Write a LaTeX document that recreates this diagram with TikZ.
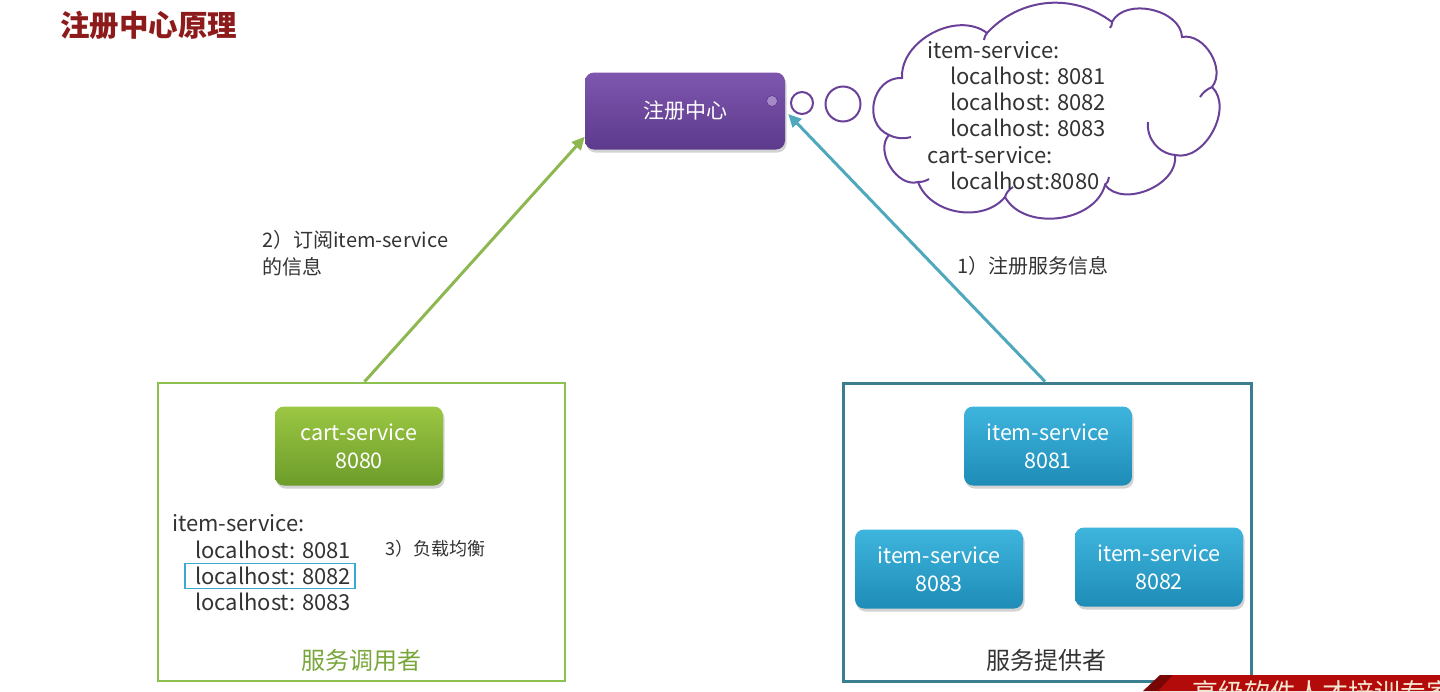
\documentclass[tikz,border=0pt]{standalone}
\usepackage{fontspec}
\setmainfont{Noto Sans CJK SC}
\usetikzlibrary{arrows.meta,shadows,calc}

\definecolor{titlered}{HTML}{8E1B1B}
\definecolor{regtop}{HTML}{7E56AE}
\definecolor{regbot}{HTML}{5C3A8C}
\definecolor{regline}{HTML}{6A4198}
\definecolor{subline}{HTML}{8DB851}
\definecolor{consline}{HTML}{8CC152}
\definecolor{carttop}{HTML}{9CC743}
\definecolor{cartbot}{HTML}{6C9C2A}
\definecolor{itemtop}{HTML}{3EB5DD}
\definecolor{itembot}{HTML}{1E8CB7}
\definecolor{regarrow}{HTML}{4FA8BC}
\definecolor{provline}{HTML}{3B7E8F}
\definecolor{txt}{HTML}{333333}
\definecolor{consgreen}{HTML}{79A63A}
\definecolor{hlblue}{HTML}{3AA8D2}
\definecolor{bannerred}{HTML}{B30A0A}
\definecolor{bannerdark}{HTML}{7A0505}
\definecolor{cream}{HTML}{F6E7D2}

\newcommand{\fs}[2]{\fontsize{#1}{#2}\selectfont}

\tikzset{
  svcbox/.style={rounded corners=9pt, minimum width=168pt, minimum height=79pt,
    align=center, text=white, font=\fs{21.5}{28},
    drop shadow={shadow xshift=1.5pt, shadow yshift=-3pt, opacity=0.35}},
  cartbox/.style={svcbox, top color=carttop, bottom color=cartbot},
  itembox/.style={svcbox, top color=itemtop, bottom color=itembot},
  listline/.style={anchor=west, text=txt, font=\fs{22}{26}, inner sep=0pt},
  arrowlabel/.style={anchor=west, align=left, text=txt, font=\fs{20}{27}, inner sep=0pt},
  flow/.style={line width=3pt, -{Triangle[length=13pt,width=12pt]}},
  bubble/.style={draw=regline, line width=2pt, fill=white},
  cloudline/.style={draw=regline, line width=2pt},
}

\begin{document}
\begin{tikzpicture}[x=1pt,y=-1pt]
\useasboundingbox (0,0) rectangle (1440,691);

% title
\node[anchor=west, text=titlered, font=\fs{29.5}{34}\bfseries, inner sep=0pt] (title) at (60,25) {注册中心原理};

% registry node
\node[rounded corners=9pt, minimum width=200pt, minimum height=77pt,
      top color=regtop, bottom color=regbot, text=white, font=\fs{21}{26},
      drop shadow={shadow xshift=1.5pt, shadow yshift=-3pt, opacity=0.35}] (reg) at (685,111) {注册中心};
\node[circle, fill=regtop!70!white, draw=regbot, line width=0.6pt, minimum size=11pt, inner sep=0pt] (dot) at (772,101) {};

% thought bubbles
\node[bubble, circle, minimum size=22pt, inner sep=0pt] (b1) at (802,103) {};
\node[bubble, circle, minimum size=35pt, inner sep=0pt] (b2) at (843,104) {};

% cloud outline: one bump between each pair of junctions
\coordinate (j1) at (902,78);
\coordinate (j2) at (889,135);
\coordinate (j3) at (918,182);
\coordinate (j4) at (1005,197);
\coordinate (j5) at (1105,185);
\coordinate (j6) at (1175,155);
\coordinate (j7) at (1212,87);
\coordinate (j8) at (1182,37);
\coordinate (j9) at (1112,22);
\coordinate (j10) at (987,33);
\filldraw[cloudline, fill=white]
  (j1) to[bend left=65] (j10)
       to[bend left=42] (j9)
       to[bend left=75] (j8)
       to[bend left=70] (j7)
       to[bend left=75] (j6)
       to[bend left=75] (j5)
       to[bend left=68] (j4)
       to[bend left=60] (j3)
       to[bend left=75] (j2)
       to[bend left=80, looseness=1.3] (j1) -- cycle;
% inner fold arcs of the cloud
\draw[cloudline] (j2) to[bend right=20] (911,137);
\draw[cloudline] (j3) to[bend right=15] (929,179);
\draw[cloudline] (j4) to[bend left=20] (1013,187);
\draw[cloudline] (j5) to[bend right=20] (1109,177);
\draw[cloudline] (j6) to[bend left=45] (1148,122);
\draw[cloudline] (j7) to[bend right=15] (1200,97);
\draw[cloudline] (j9) to[bend left=20] (1110,28);
\draw[cloudline] (j10) to[bend right=15] (984,40);

% registry contents
\node[listline] (c1) at (927,50)  {item-service:};
\node[listline] (c2) at (950,76)  {localhost: 8081};
\node[listline] (c3) at (950,102) {localhost: 8082};
\node[listline] (c4) at (950,128) {localhost: 8083};
\node[listline] (c5) at (927,155) {cart-service:};
\node[listline] (c6) at (950,181) {localhost:8080};

% consumer and provider frames
\node[draw=consline, line width=2.6pt, minimum width=407pt, minimum height=298pt, inner sep=0pt] (cons) at (361.5,532) {};
\node[draw=provline, line width=3pt, minimum width=408pt, minimum height=298pt, inner sep=0pt] (prov) at (1047,532) {};

% services
\node[cartbox] (cart) at (359,446) {cart-service\\8080};
\node[itembox] (i1) at (1048,446) {item-service\\8081};
\node[itembox] (i3) at (939,569) {item-service\\8083};
\node[itembox] (i2) at (1159,567) {item-service\\8082};

% local list of item-service instances
\node[listline] (l0) at (172,523) {item-service:};
\node[listline] (l1) at (195,550) {localhost: 8081};
\node[listline] (l2) at (195,576) {localhost: 8082};
\node[listline] (l3) at (195,602) {localhost: 8083};
\draw[hlblue, line width=1.6pt] ($(l2.west)+(-10,-12.5)$) rectangle ($(l2.east)+(4,12.5)$);
\node[anchor=west, text=txt, font=\fs{18}{22}, inner sep=0pt] (lb) at (385,549) {3）负载均衡};

% frame captions
\node[text=consgreen, font=\fs{24}{28}, inner sep=0pt] (consname) at (361.5,660) {服务调用者};
\node[text=txt, font=\fs{24}{28}, inner sep=0pt] (provname) at (1046,660) {服务提供者};

% subscription and registration
\draw[flow, subline] (cons.north) ++(3,0) coordinate (s0) -- ($(reg.south west)+(0,-13)$);
\draw[flow, regarrow] (prov.north) ++(-2,0) coordinate (r0) -- ($(reg.east)+(3,3)$);
\node[arrowlabel] (sublabel) at (262,253.5) {2）订阅item-service\\的信息};
\node[arrowlabel] (reglabel) at (957,266) {1）注册服务信息};

% corner banner
\begin{scope}
  \clip (0,0) rectangle (1440,691);
  \fill[bannerdark] (1143,691) -- (1160,675) -- (1175,675) -- (1160,691) -- cycle;
  \fill[bannerred] (1158,691) -- (1173,675) -- (1440,675) -- (1440,691) -- cycle;
  \node[anchor=north west, text=cream, font=\fs{26}{30}, inner sep=0pt] (banner) at (1192,680) {高级软件人才培训专家};
\end{scope}
\end{tikzpicture}
\end{document}
